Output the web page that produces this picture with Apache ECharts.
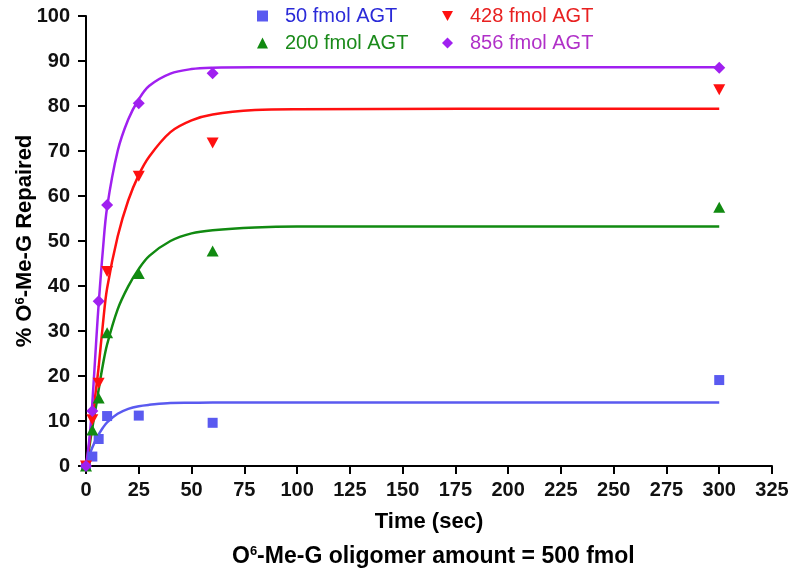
<!DOCTYPE html>
<html>
<head>
<meta charset="utf-8">
<script src="https://cdn.jsdelivr.net/npm/echarts@6/dist/echarts.min.js"></script>
<style>html,body{margin:0;padding:0;background:#fff}#c{width:800px;height:576px}</style>
</head>
<body>
<div id="c"></div>
<script>
// measured data points
const time = [0, 3, 6, 10, 25, 60, 300];
const agt50 = [0, 2.1, 6.0, 11.1, 11.2, 9.6, 19.1];
const agt200 = [0, 8.0, 15.1, 29.6, 42.8, 47.8, 57.5];
const agt428 = [0, 10.3, 18.4, 43.2, 64.4, 71.8, 83.6];
const agt856 = [0, 12.2, 36.6, 58.0, 80.6, 87.3, 88.5];

// fitted curves
const curveTime = [0, 1, 2, 3, 5, 6, 8, 10, 15, 20, 25, 30, 40, 50, 60, 80, 100, 300];
const fit50 = [0, 1.5, 2.9, 4.1, 6.2, 7.0, 8.5, 9.7, 11.6, 12.7, 13.3, 13.6, 14.0, 14.05, 14.1, 14.1, 14.1, 14.1];
const fit200 = [0, 2.5, 5.5, 8.5, 14.0, 17.0, 22.5, 27.0, 34.8, 39.9, 43.8, 46.7, 50.0, 51.7, 52.4, 53.0, 53.2, 53.2];
const fit428 = [0, 3.0, 6.5, 10.5, 18.0, 22.0, 31.5, 39.5, 51.0, 59.0, 64.7, 68.8, 74.2, 76.8, 78.1, 79.1, 79.3, 79.4];
const fit856 = [0, 3.5, 8.0, 14.0, 29.0, 36.0, 48.0, 57.5, 70.0, 77.0, 81.5, 84.5, 87.2, 88.2, 88.5, 88.6, 88.6, 88.6];

const names = ['50 fmol AGT', '200 fmol AGT', '428 fmol AGT', '856 fmol AGT'];
const xTicks = {min: 0, max: 325, step: 25};
const yTicks = {min: 0, max: 100, step: 10};

const FONT = 'Liberation Sans, Arial, sans-serif';
const colors = ['#5a5af0', '#118a11', '#ff1010', '#a020f0'];
const textColors = ['#2a2ad8', '#1a8a1a', '#e82020', '#b030c8'];
const symbols = ['rect', 'triangle', 'triangle', 'diamond'];
const legendIcons = ['rect', 'triangle', 'path://M0,0L10,0L5,9Z', 'diamond'];
const rotates = [0, 0, 180, 0];
const sizes = [[10, 10], [12, 11], [12, 11], [12, 12]];
const pts = [agt50, agt200, agt428, agt856];
const fits = [fit50, fit200, fit428, fit856];
const legendPos = [[257, 6], [257, 33], [442, 6], [442, 33]];

const series = [];
fits.forEach((f, i) => {
  series.push({
    name: names[i] + ' fit', type: 'line', smooth: 0.35,
    showSymbol: false, symbol: 'none', z: 2,
    lineStyle: {color: colors[i], width: 2.5},
    data: curveTime.map((t, j) => [t, f[j]])
  });
});
pts.forEach((p, i) => {
  series.push({
    name: names[i], type: 'scatter', symbol: symbols[i], symbolSize: sizes[i],
    symbolRotate: rotates[i], z: 3,
    itemStyle: {color: colors[i], opacity: 1},
    data: time.map((t, j) => [t, p[j]])
  });
});

const legends = names.map((n, i) => ({
  left: legendPos[i][0], top: legendPos[i][1], padding: 0,
  itemWidth: 11, itemHeight: 11, selectedMode: false,
  textStyle: {fontSize: 20, fontFamily: FONT, color: textColors[i], padding: [0, 0, 0, 12]},
  data: [{name: n, icon: legendIcons[i], itemStyle: {color: colors[i]}}]
}));

const chart = echarts.init(document.getElementById('c'), null, {renderer: 'canvas'});
chart.setOption({
  animation: false,
  backgroundColor: '#fff',
  legend: legends,
  title: {
    text: '{b|O}{s|6}{b|-Me-G oligomer amount = 500 fmol}',
    left: 232, top: 545, padding: 0,
    textStyle: {
      rich: {
        b: {fontSize: 23, fontWeight: 'bold', fontFamily: FONT, color: '#000'},
        s: {fontSize: 13, fontWeight: 'bold', fontFamily: FONT, color: '#000', verticalAlign: 'top'}
      }
    }
  },
  grid: {left: 86, top: 16, width: 686, height: 450, outerBoundsMode: 'none', containLabel: false},
  xAxis: {
    type: 'value', min: xTicks.min, max: xTicks.max, interval: xTicks.step,
    name: 'Time (sec)', nameLocation: 'middle', nameGap: 45, nameMoveOverlap: false,
    nameTextStyle: {fontSize: 22, fontWeight: 'bold', fontFamily: FONT, color: '#000'},
    axisLine: {show: true, onZero: false, lineStyle: {color: '#000', width: 2}},
    axisTick: {show: true, inside: false, length: 8, lineStyle: {color: '#000', width: 2}},
    axisLabel: {fontSize: 20, fontWeight: 'bold', fontFamily: FONT, color: '#111', margin: 14},
    splitLine: {show: false}
  },
  yAxis: {
    type: 'value', min: yTicks.min, max: yTicks.max, interval: yTicks.step,
    name: '{a|% O}{s|6}{a|-Me-G Repaired}', nameLocation: 'middle', nameGap: 50, nameRotate: 90,
    nameMoveOverlap: false,
    nameTextStyle: {
      rich: {
        a: {fontSize: 22, fontWeight: 'bold', fontFamily: FONT, color: '#000'},
        s: {fontSize: 13, fontWeight: 'bold', fontFamily: FONT, color: '#000', verticalAlign: 'top'}
      }
    },
    axisLine: {show: true, onZero: false, lineStyle: {color: '#000', width: 2}},
    axisTick: {show: true, inside: false, length: 8, lineStyle: {color: '#000', width: 2}},
    axisLabel: {fontSize: 20, fontWeight: 'bold', fontFamily: FONT, color: '#111', margin: 16},
    splitLine: {show: false}
  },
  series: series
});
</script>
</body>
</html>
